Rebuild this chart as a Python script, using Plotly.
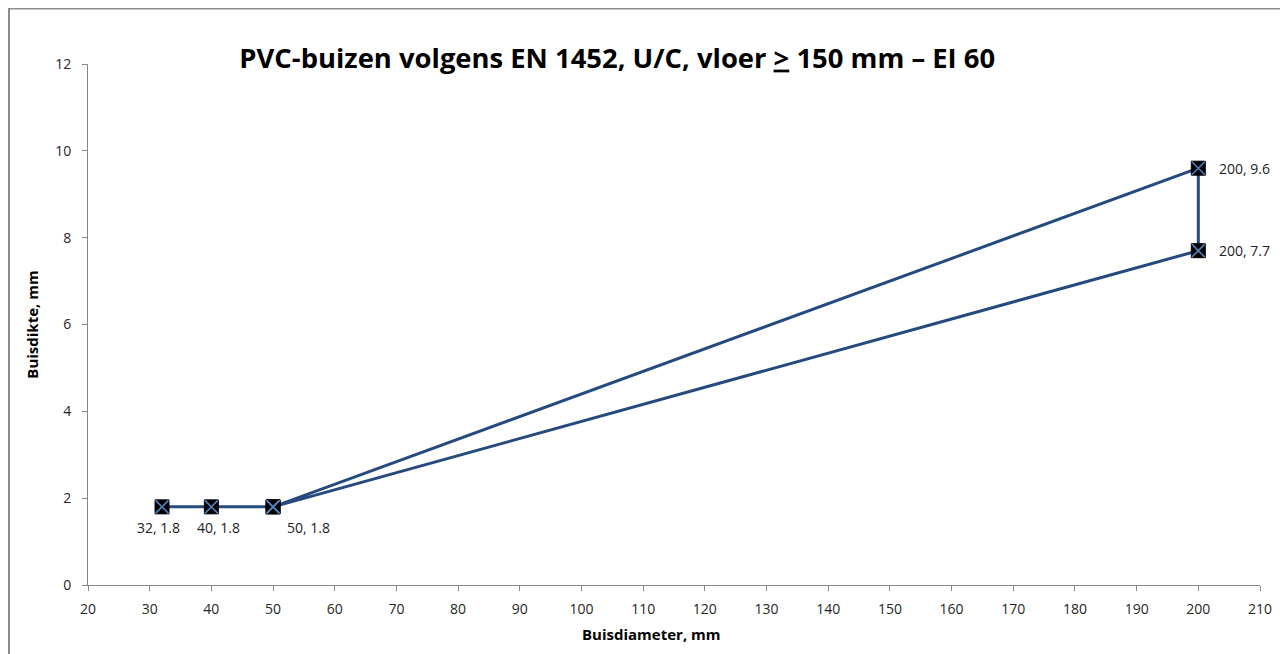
import plotly.graph_objects as go

# Data
diam = [32, 40, 50, 200, 200, 50]
thick = [1.8, 1.8, 1.8, 9.6, 7.7, 1.8]
labels = ["32, 1.8", "40, 1.8", "50, 1.8", "200, 9.6", "200, 7.7"]

x_ticks = list(range(20, 211, 10))
y_ticks = list(range(0, 13, 2))

line_col = "#254A7D"
font_fam = "Open Sans, Noto Sans, sans-serif"

fig = go.Figure()
fig.add_trace(go.Scatter(x=diam, y=thick, mode="lines",
                         line=dict(color=line_col, width=3), hoverinfo="skip",
                         showlegend=False))
fig.add_trace(go.Scatter(x=diam, y=thick, mode="markers",
                         marker=dict(symbol="square", size=14, color="black",
                                     line=dict(color="black", width=1)),
                         showlegend=False))
fig.add_trace(go.Scatter(x=diam, y=thick, mode="markers",
                         marker=dict(symbol="x-thin-open", size=13, color="#4F81BD",
                                     line=dict(color="#4F81BD", width=1.6)),
                         hoverinfo="skip", showlegend=False))

# label placement (anchor, shifts)
label_style = [
    dict(xanchor="center", yanchor="middle", xshift=-4, yshift=-21),
    dict(xanchor="center", yanchor="middle", xshift=7, yshift=-21),
    dict(xanchor="left", yanchor="middle", xshift=12, yshift=-21),
    dict(xanchor="left", yanchor="middle", xshift=19, yshift=0),
    dict(xanchor="left", yanchor="middle", xshift=19, yshift=0),
]
for xv, yv, t, st in zip(diam, thick, labels, label_style):
    fig.add_annotation(x=xv, y=yv, text=t, showarrow=False,
                       font=dict(size=14, color="#222222", family=font_fam), **st)

# x-axis title (placed slightly left of centre, as in the original)
fig.add_annotation(xref="paper", yref="paper", x=0.481, y=-0.094,
                   xanchor="center", yanchor="middle", showarrow=False,
                   text="<b>Buisdiameter, mm</b>",
                   font=dict(size=15, color="black", family=font_fam))

fig.update_layout(
    width=1288, height=654,
    margin=dict(l=80, r=36, t=56, b=77),
    paper_bgcolor="white", plot_bgcolor="white",
    font=dict(family=font_fam, color="#222222"),
    title=dict(text="PVC-buizen volgens EN 1452, U/C, vloer <u>></u> 150 mm – EI 60",
               x=0.473, xanchor="center", y=0.9235, yanchor="middle",
               font=dict(size=27.4, color="black", family=font_fam, weight="bold")),
    xaxis=dict(range=[20, 210], tickvals=x_ticks, showgrid=False, zeroline=False,
               showline=True, linecolor="#868686", linewidth=1,
               ticks="outside", ticklen=5, tickcolor="#868686",
               ticklabelstandoff=6,
               tickfont=dict(size=14, color="#262626")),
    yaxis=dict(range=[0, 12], tickvals=y_ticks, showgrid=False, zeroline=False,
               showline=True, linecolor="#868686", linewidth=1,
               ticks="outside", ticklen=5, tickcolor="#868686",
               ticklabelstandoff=8,
               tickfont=dict(size=14, color="#262626"),
               title=dict(text="<b>Buisdikte, mm</b>", font=dict(size=15, color="black"),
                          standoff=12)),
)

fig.add_shape(type="rect", xref="paper", yref="paper",
              x0=-0.0674, x1=1.0222, y0=-0.3, y1=1.1065,
              line=dict(color="#8C8C8C", width=2), fillcolor="rgba(0,0,0,0)",
              layer="below")

fig.write_html("out.html")
